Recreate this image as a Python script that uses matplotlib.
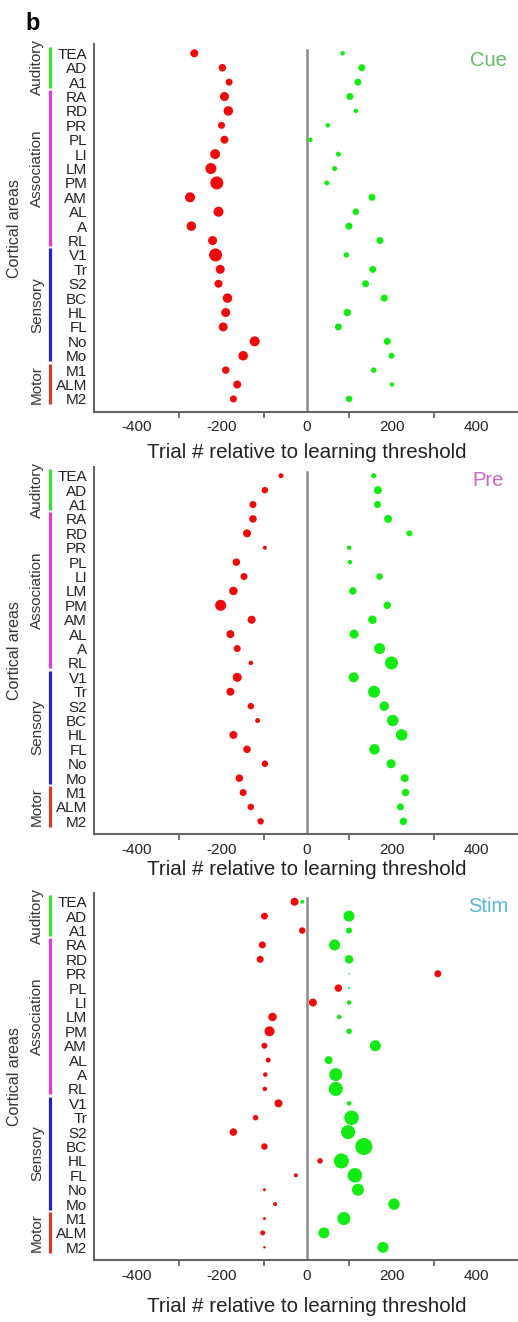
import matplotlib
matplotlib.use("Agg")
import matplotlib.pyplot as plt
from matplotlib.transforms import blended_transform_factory

plt.rcParams["font.family"] = ["Liberation Sans", "DejaVu Sans"]

# --- data -------------------------------------------------------------
areas = ["TEA", "AD", "A1", "RA", "RD", "PR", "PL", "LI", "LM", "PM", "AM",
         "AL", "A", "RL", "V1", "Tr", "S2", "BC", "HL", "FL", "No", "Mo",
         "M1", "ALM", "M2"]

group_names = ["Auditory", "Association", "Sensory", "Motor"]
group_first = [0, 3, 14, 22]
group_last = [2, 13, 21, 24]
group_colors = ["#3ddc3d", "#dd3ddd", "#2323c8", "#d83a2a"]

panel_names = ["Cue", "Pre", "Stim"]
panel_colors = ["#66bb66", "#cc66bb", "#55b8d8"]

# trial (relative to learning threshold) of the negative / positive peaks
cue_neg_t = [-264, -198, -182, -193, -184, -200, -193, -215, -225, -211, -274, -207, -271,
             -221, -214, -203, -207, -186, -190, -196, -122, -149, -190, -163, -172]
cue_neg_n = [8, 7.5, 7, 9, 9.5, 7, 8, 10, 11, 13, 10, 10, 9.5,
             9, 13, 9, 8, 9.5, 9, 9, 10, 9.5, 7.5, 8, 7]
cue_pos_t = [85, 130, 121, 102, 116, 50, 9, 75, 66, 48, 154, 116, 100,
             173, 94, 156, 139, 183, 96, 75, 190, 200, 158, 201, 100]
cue_pos_n = [4.5, 7, 7, 7, 4.5, 4.5, 4.5, 5, 5, 5, 7, 6.5, 7,
             7, 5.5, 7, 7, 7, 7.5, 7, 7, 6, 5.5, 4.5, 6.5]

pre_neg_t = [-60, -98, -126, -126, -140, -98, -165, -147, -172, -202, -129, -179, -163,
             -131, -163, -179, -131, -115, -172, -140, -98, -158, -149, -131, -108]
pre_neg_n = [5, 6.5, 7, 7.5, 8, 4, 7.5, 7, 8.5, 11, 8, 8, 7,
             4.5, 9, 8, 6.5, 5, 8, 7.5, 6.5, 7.5, 7, 6.5, 6.5]
pre_pos_t = [158, 168, 167, 192, 242, 100, 102, 172, 109, 190, 155, 112, 172,
             200, 111, 159, 183, 203, 224, 160, 199, 231, 233, 221, 228]
pre_pos_n = [5, 8, 7, 8, 6, 4.5, 4.5, 6.5, 7.5, 7.5, 8.5, 9, 11,
             13, 10, 12, 9.5, 11.5, 11.5, 10.5, 9, 8, 7.5, 7, 7.5]

stim_neg_t = [-28, -99, -10, -104, -109, 309, 75, 15, -80, -87, -99, -90, -97,
              -98, -66, -120, -172, -99, 32, -25, -99, -74, -99, -103, -99]
stim_neg_n = [8, 7, 6.5, 7, 7, 7, 7.5, 8, 8.5, 10, 6, 5, 4.5,
              4.5, 8, 5.5, 7.5, 6.5, 5.5, 4, 3, 4, 3, 5, 2.5]
stim_pos_t = [-10, 100, 100, 66, 100, 100, 100, 100, 77, 100, 162, 52, 69,
              69, 100, 106, 98, 135, 82, 114, 121, 206, 88, 41, 180]
stim_pos_n = [4, 11, 6, 11, 8.5, 1.5, 2, 4.5, 4.5, 5.5, 11, 8, 13,
              14, 4.5, 14.5, 14, 17, 15, 14.5, 12, 11.5, 13, 11, 11]

panels = [
    (cue_neg_t, cue_neg_n, cue_pos_t, cue_pos_n),
    (pre_neg_t, pre_neg_n, pre_pos_t, pre_pos_n),
    (stim_neg_t, stim_neg_n, stim_pos_t, stim_pos_n),
]

# --- figure -----------------------------------------------------------
W, H = 518, 1322
fig = plt.figure(figsize=(W / 100, H / 100), dpi=100)

ax_left, ax_right = 94, 519
ax_h = 367.5
ax_bottoms = [411.9, 834.3, 1260.3]
xlabel_offsets = [41, 35, 46]
name_rows = [0.5, 0.3, 0.35]

rows = list(range(len(areas)))
text_col = "#222222"

for k, (neg_t, neg_n, pos_t, pos_n) in enumerate(panels):
    ax = fig.add_axes([ax_left / W, 1 - ax_bottoms[k] / H,
                       (ax_right - ax_left) / W, ax_h / H])
    ax.set_xlim(-500, 500)
    ax.set_ylim(24.9, -0.62)

    ax.plot([0, 0], [-0.25, 24.9], color="#8a8a8a", lw=1.8, zorder=1)

    ax.scatter(neg_t, rows, s=[(0.72 * n) ** 2 for n in neg_n],
               color="#ee0a0a", linewidths=0, zorder=3)
    ax.scatter(pos_t, rows, s=[(0.72 * n) ** 2 for n in pos_n],
               color="#12ec12", linewidths=0, zorder=3)

    for side in ["top", "right"]:
        ax.spines[side].set_visible(False)
    for side in ["left", "bottom"]:
        ax.spines[side].set_color("#666666")
        ax.spines[side].set_linewidth(1.5)

    ax.set_yticks(rows)
    ax.set_yticklabels(areas, fontsize=11, color=text_col)
    ax.tick_params(axis="y", length=0, pad=4.8)

    ax.set_xticks([-400, -200, 0, 200, 400])
    ax.set_xticklabels(["-400", "-200", "0", "200", "400"], fontsize=11, color=text_col)
    ax.set_xticks([-300, -100, 100, 300], minor=True)
    ax.tick_params(axis="x", which="major", length=0, pad=6)
    ax.tick_params(axis="x", which="minor", length=4.5, width=1.3, color="#666666")

    ax.set_xlabel("Trial # relative to learning threshold", fontsize=14.8, color=text_col)
    ax.xaxis.set_label_coords(0.5, -xlabel_offsets[k] / ax_h)
    ax.xaxis.label.set_verticalalignment("center")

    trans = blended_transform_factory(ax.transAxes, ax.transData)
    bar_x = (50 - ax_left) / (ax_right - ax_left)
    lab_x = (37 - ax_left) / (ax_right - ax_left)
    for name, g0, g1, col in zip(group_names, group_first, group_last, group_colors):
        ax.plot([bar_x, bar_x], [g0 - 0.45, g1 + 0.38], color=col, lw=2.3,
                transform=trans, clip_on=False, solid_capstyle="butt")
        ax.text(lab_x, (g0 + g1) / 2 - 0.03, name, rotation=90, ha="center",
                va="center", fontsize=11, color="#333333", transform=trans)

    ax.text((15 - ax_left) / (ax_right - ax_left), 0.5, "Cortical areas",
            rotation=90, ha="center", va="center", fontsize=11.5,
            color="#333333", transform=ax.transAxes)

    ax.text((488 - ax_left) / (ax_right - ax_left), name_rows[k], panel_names[k],
            ha="center", va="center", fontsize=14.5, color=panel_colors[k],
            transform=trans)

fig.text(25 / W, 1 - 30 / H, "b", fontsize=17, fontweight="bold",
         ha="left", va="baseline")

fig.savefig("out.png", dpi=100)
